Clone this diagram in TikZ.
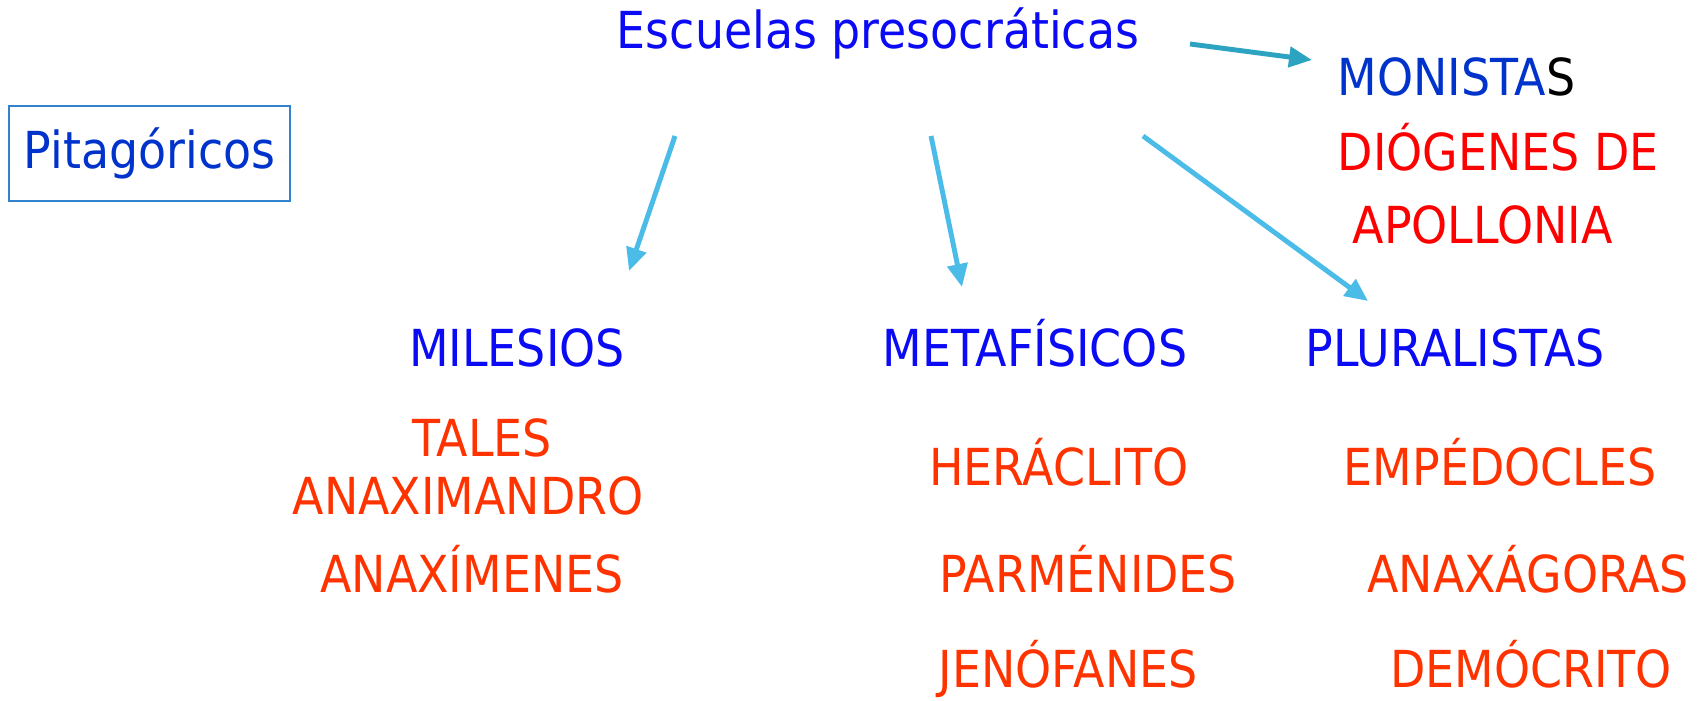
\documentclass[tikz,border=0pt]{standalone}
\usepackage{fontspec}
\setmainfont{DejaVu Sans}[FakeStretch=0.9]
\usetikzlibrary{arrows.meta,positioning}
\definecolor{titleblue}{RGB}{10,10,245}
\definecolor{monoblue}{RGB}{0,51,204}
\definecolor{boxblue}{RGB}{50,130,205}
\definecolor{thinkerred}{RGB}{255,51,0}
\definecolor{purered}{RGB}{255,0,0}
\definecolor{skyarrow}{RGB}{75,187,232}
\definecolor{tealarrow}{RGB}{44,163,192}
\tikzset{
  txt/.style={anchor=base, inner sep=0pt, font=\fontsize{14.5}{17}\selectfont},
  school/.style={txt, text=titleblue},
  thinker/.style={txt, text=thinkerred},
  monist/.style={txt, anchor=base west, text=purered},
  framed/.style={rectangle, draw=boxblue, line width=0.6pt, text=monoblue,
                 minimum width=2.81cm, minimum height=0.95cm,
                 font=\fontsize{14.5}{17}\selectfont},
  arrow/.style={-{Triangle[length=2.3mm, width=2mm]}, line width=1.4pt, skyarrow},
  arrowteal/.style={arrow, tealarrow},
}
\begin{document}
\begin{tikzpicture}[x=0.01cm, y=-0.01cm]
\useasboundingbox (0,0) rectangle (1707,701);
\node[school] (title) at (878,49) {Escuelas presocráticas};
\node[framed] (pitag) at (149.5,153.5) {Pitagóricos};
% monistas
\node[monist, text=monoblue] (monistas) at (1337,96) {MONISTA{\color{black}S}};
\node[monist] (diogenes) at (1337,171) {DIÓGENES DE};
\node[monist] (apollonia) at (1352,244) {APOLLONIA};
% the three schools
\node[school] (milesios) at (517,367) {MILESIOS};
\node[school] (metafisicos) at (1035,367) {METAFÍSICOS};
\node[school] (pluralistas) at (1455,367) {PLURALISTAS};
\node[thinker] (tales) at (482,457) {TALES};
\node[thinker] (anaximandro) at (468,515) {ANAXIMANDRO};
\node[thinker] (anaximenes) at (472,593) {ANAXÍMENES};
\node[thinker] (heraclito) at (1059,486) {HERÁCLITO};
\node[thinker] (parmenides) at (1088,593) {PARMÉNIDES};
\node[thinker] (jenofanes) at (1068,688) {JENÓFANES};
\node[thinker] (empedocles) at (1500,486) {EMPÉDOCLES};
\node[thinker] (anaxagoras) at (1528,593) {ANAXÁGORAS};
\node[thinker] (democrito) at (1531,688) {DEMÓCRITO};
% arrow ends
\coordinate (monoS) at (1190,44);
\coordinate (monoE) at (1312,60);
\coordinate (milS) at (675,136);
\coordinate (milE) at (629,271);
\coordinate (metS) at (931,136);
\coordinate (metE) at (962,287);
\coordinate (pluS) at (1143,136);
\coordinate (pluE) at (1368,301);
\draw[arrowteal] (monoS) -- (monoE);
\foreach \a/\b in {milS/milE, metS/metE, pluS/pluE}
  \draw[arrow] (\a) -- (\b);
\end{tikzpicture}
\end{document}
